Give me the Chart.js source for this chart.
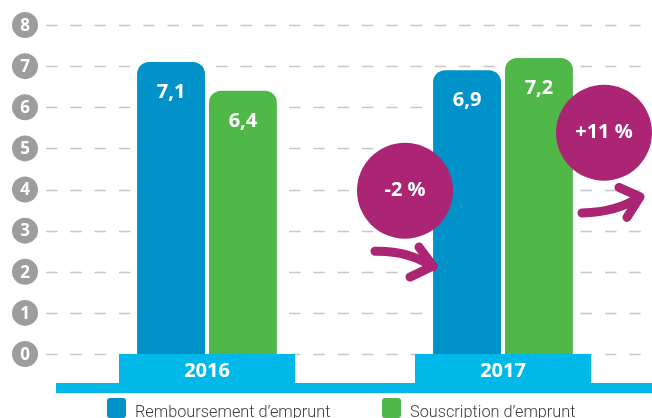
<!DOCTYPE html>
<html>
<head>
<meta charset="utf-8">
<script src="https://cdn.jsdelivr.net/npm/chart.js@4.4.1/dist/chart.umd.min.js"></script>
<style>
  html, body { margin: 0; padding: 0; background: #fff; }
  #wrap { width: 652px; height: 418px; position: relative; }
</style>
</head>
<body>
<div id="wrap"><canvas id="myChart"></canvas></div>
<script>
(function () {
    "use strict";

    // chart data
    const years = ['2016', '2017'];
    const remboursement = [7.1, 6.9];
    const souscription = [6.4, 7.2];
    const yTicks = [0, 1, 2, 3, 4, 5, 6, 7, 8];
    const seriesNames = ['Remboursement d\u2019emprunt', 'Souscription d\u2019emprunt'];
    const changes = ['-2 %', '+11 %'];

    const BLUE = '#0092c8';
    const GREEN = '#50b848';
    const CYAN = '#00b9e9';
    const MAGENTA = '#ac2474';
    const GREY = '#9d9d9c';

    function fmt(v) {
        return v.toFixed(1).replace('.', ',');
    }

    // background decorations: axis bubbles, dashed grid, year boxes
    const decorations = {
        id: 'decorations',
        beforeDraw(chart) {
            const ctx = chart.ctx;
            const y = chart.scales.y;
            const x = chart.scales.x;
            ctx.save();
            // dashed grid
            ctx.strokeStyle = '#c8c8c8';
            ctx.lineWidth = 1.6;
            ctx.setLineDash([11.5, 12.8]);
            yTicks.forEach(function (t) {
                const py = Math.round(y.getPixelForValue(t)) + 0.5;
                ctx.beginPath();
                ctx.moveTo(46, py);
                ctx.lineTo(chart.width, py);
                ctx.stroke();
            });
            ctx.setLineDash([]);
            // axis bubbles
            yTicks.forEach(function (t) {
                const py = y.getPixelForValue(t);
                ctx.fillStyle = GREY;
                ctx.beginPath();
                ctx.arc(25, py, 13, 0, Math.PI * 2);
                ctx.fill();
                ctx.fillStyle = '#fff';
                ctx.font = 'bold 17px "Open Sans", sans-serif';
                ctx.textAlign = 'center';
                ctx.textBaseline = 'middle';
                ctx.fillText(String(t), 25, py + 1);
            });
            // year boxes and band
            const bottom = chart.chartArea.bottom;
            ctx.fillStyle = CYAN;
            years.forEach(function (yr, i) {
                const cx = x.getPixelForValue(i);
                ctx.fillRect(cx - 88, bottom, 176, 30);
            });
            ctx.fillRect(56, bottom + 29, chart.width - 56, 10);
            ctx.restore();
        },
        afterDatasetsDraw(chart) {
            const ctx = chart.ctx;
            ctx.save();
            // value labels in bars
            ctx.fillStyle = '#fff';
            ctx.font = 'bold 20px "Open Sans", sans-serif';
            ctx.textAlign = 'center';
            ctx.textBaseline = 'middle';
            chart.data.datasets.forEach(function (ds, di) {
                chart.getDatasetMeta(di).data.forEach(function (bar, i) {
                    ctx.fillText(fmt(ds.data[i]), bar.x, bar.y + 30);
                });
            });

            // change bubbles with arrows
            const x = chart.scales.x;
            const y = chart.scales.y;
            const x17 = x.getPixelForValue(1);
            const bubbles = [
                { cx: x17 - 98, cy: y.getPixelForValue(3.97), text: changes[0] },
                { cx: x17 + 101, cy: y.getPixelForValue(5.38), text: changes[1] }
            ];
            ctx.lineWidth = 9;
            ctx.lineCap = 'round';
            ctx.lineJoin = 'round';
            ctx.strokeStyle = MAGENTA;
            // arrow 1
            ctx.beginPath();
            ctx.moveTo(x17 - 128, y.getPixelForValue(2.5));
            ctx.quadraticCurveTo(x17 - 95, y.getPixelForValue(2.52), x17 - 70, y.getPixelForValue(2.12));
            ctx.stroke();
            ctx.beginPath();
            ctx.moveTo(x17 - 84, y.getPixelForValue(2.6));
            ctx.lineTo(x17 - 70, y.getPixelForValue(2.14));
            ctx.lineTo(x17 - 93, y.getPixelForValue(1.87));
            ctx.stroke();
            // arrow 2
            ctx.beginPath();
            ctx.moveTo(x17 + 79, y.getPixelForValue(3.43));
            ctx.quadraticCurveTo(x17 + 115, y.getPixelForValue(3.45), x17 + 136, y.getPixelForValue(3.82));
            ctx.stroke();
            ctx.beginPath();
            ctx.moveTo(x17 + 116, y.getPixelForValue(4.05));
            ctx.lineTo(x17 + 137, y.getPixelForValue(3.82));
            ctx.lineTo(x17 + 124, y.getPixelForValue(3.32));
            ctx.stroke();

            bubbles.forEach(function (b) {
                ctx.fillStyle = MAGENTA;
                ctx.beginPath();
                ctx.arc(b.cx, b.cy, 48, 0, Math.PI * 2);
                ctx.fill();
                ctx.fillStyle = '#fff';
                ctx.font = 'bold 20px "Open Sans", sans-serif';
                ctx.textAlign = 'center';
                ctx.textBaseline = 'middle';
                ctx.fillText(b.text, b.cx, b.cy);
            });

            // legend
            const colors = [BLUE, GREEN];
            const lx = [107, 382];
            ctx.font = '300 16.3px Roboto, sans-serif';
            ctx.textAlign = 'left';
            ctx.textBaseline = 'alphabetic';
            seriesNames.forEach(function (name, i) {
                ctx.fillStyle = colors[i];
                ctx.beginPath();
                ctx.roundRect(lx[i], 398, 19, 20, 3);
                ctx.fill();
                ctx.fillStyle = '#3c3c3b';
                ctx.fillText(name, lx[i] + 28, 417);
            });
            ctx.restore();
        }
    };

    const ctx = document.getElementById('myChart').getContext('2d');
    new Chart(ctx, {
        type: 'bar',
        data: {
            labels: years,
            datasets: [
                {
                    label: seriesNames[0],
                    data: remboursement,
                    backgroundColor: BLUE,
                    borderRadius: { topLeft: 12, topRight: 12 },
                    borderSkipped: 'bottom'
                },
                {
                    label: seriesNames[1],
                    data: souscription,
                    backgroundColor: GREEN,
                    borderRadius: { topLeft: 12, topRight: 12 },
                    borderSkipped: 'bottom'
                }
            ]
        },
        options: {
            responsive: true,
            maintainAspectRatio: false,
            animation: false,
            categoryPercentage: 0.486,
            barPercentage: 0.944,
            layout: { padding: { top: 25, left: 59, right: 1, bottom: 0 } },
            plugins: {
                legend: { display: false },
                tooltip: { enabled: false }
            },
            scales: {
                y: {
                    display: false,
                    min: 0,
                    max: 8,
                    ticks: { stepSize: 1 }
                },
                x: {
                    grid: { display: false, drawTicks: false },
                    border: { display: false },
                    ticks: {
                        color: '#fff',
                        padding: 5,
                        font: { family: '"Open Sans", sans-serif', size: 20, weight: 'bold' }
                    },
                    afterFit: function (scale) {
                        scale.height = 64;
                    }
                }
            }
        },
        plugins: [decorations]
    });
})();
</script>
</body>
</html>
